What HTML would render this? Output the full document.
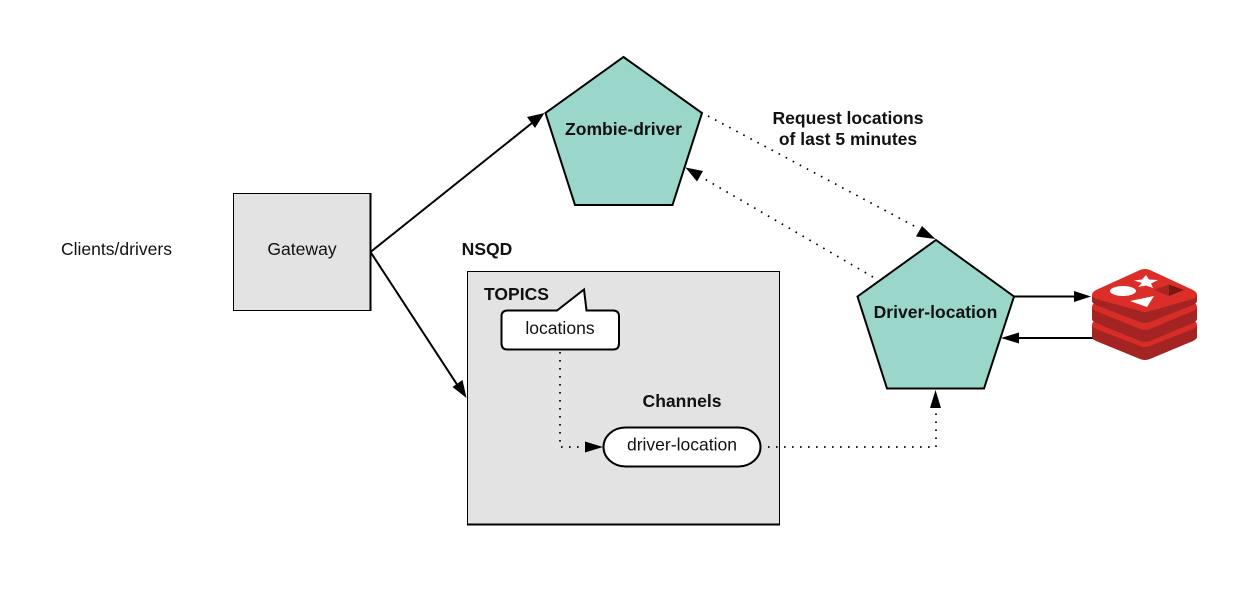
<!DOCTYPE html>
<html>
<head>
<meta charset="utf-8">
<style>
html,body{margin:0;padding:0;background:#fff;width:1241px;height:605px;overflow:hidden}
svg{display:block}
text{font-family:"Liberation Sans",sans-serif;fill:#111;font-size:17.55px}
.b{font-weight:bold}
.d{fill:none;stroke:#000;stroke-width:1.7;stroke-dasharray:1.6 6.4}
.l{fill:none;stroke:#000;stroke-width:2}
</style>
</head>
<body>
<svg width="1241" height="605" viewBox="0 0 1241 605" xmlns="http://www.w3.org/2000/svg">
<rect width="1241" height="605" fill="#fff"/>

<!-- Gateway -->
<rect x="233.5" y="193.5" width="137" height="117" fill="#e3e3e3" stroke="#000" stroke-width="1"/>
<line x1="370.5" y1="193" x2="370.5" y2="311" stroke="#000" stroke-width="2"/>
<text x="302" y="255" text-anchor="middle">Gateway</text>
<text x="116.500" y="255" text-anchor="middle">Clients/drivers</text>

<!-- NSQD box -->
<rect x="467.5" y="271.5" width="312" height="253" fill="#e3e3e3" stroke="#000" stroke-width="1"/>
<line x1="467" y1="524.5" x2="780" y2="524.5" stroke="#000" stroke-width="2"/>
<text class="b" x="487" y="255" text-anchor="middle">NSQD</text>

<!-- Pentagons -->
<polygon points="623.5,57 702,113 672.500,205 575,205 545.500,113" fill="#9bd6cb" stroke="#000" stroke-width="2" stroke-linejoin="miter"/>
<text class="b" x="623.500" y="135" text-anchor="middle">Zombie-driver</text>
<polygon points="936,240 1014,296.500 984,388.500 887,388.500 857.500,296.500" fill="#9bd6cb" stroke="#000" stroke-width="2"/>
<text class="b" x="935.500" y="318" text-anchor="middle">Driver-location</text>

<!-- Request label -->
<text class="b" x="848" y="124" text-anchor="middle">Request locations</text>
<text class="b" x="848" y="145" text-anchor="middle">of last 5 minutes</text>

<!-- Topics callout -->
<text class="b" x="484" y="300">TOPICS</text>
<path d="M508,310.500 H557 L584,289.500 L586.500,310.500 H613 Q619,310.500 619,316.500 V343.500 Q619,349.500 613,349.500 H507.500 Q501.500,349.500 501.500,343.500 V316.500 Q501.500,310.500 507.500,310.500 Z" fill="#fff" stroke="#000" stroke-width="2"/>
<text x="560" y="334" text-anchor="middle">locations</text>

<!-- Channels -->
<text class="b" x="682" y="407" text-anchor="middle">Channels</text>
<rect x="603.500" y="427.500" width="157" height="39" rx="22" ry="19.500" fill="#fff" stroke="#000" stroke-width="2"/>
<text x="682" y="450.500" text-anchor="middle">driver-location</text>

<!-- Solid connectors -->
<line class="l" x1="370.500" y1="252" x2="532" y2="123"/>
<polygon points="544.500,113 527,117 535,128" fill="#000"/>
<line class="l" x1="370.500" y1="252" x2="458" y2="386"/>
<polygon points="466.500,398 462.500,380 452.500,387" fill="#000"/>
<line class="l" x1="1014" y1="296.500" x2="1076" y2="296.500"/>
<polygon points="1091,296.500 1074,291 1074,302" fill="#000"/>
<line class="l" x1="1016" y1="338" x2="1094" y2="338"/>
<polygon points="1001,338 1019,332.500 1019,343.500" fill="#000"/>

<!-- Dotted connectors -->
<path class="d" d="M708,116 L916,227"/>
<polygon points="935.500,239 922,226 916,236.500" fill="#000"/>
<path class="d" d="M873,277 L703,178"/>
<polygon points="685.500,167.500 703,171 697,181.500" fill="#000"/>
<path class="d" d="M560,352 V447 H584"/>
<polygon points="603,447 585,441.500 585,452.500" fill="#000"/>
<path class="d" d="M768,447 H936 V408"/>
<polygon points="935.500,390 930,408 941,408" fill="#000"/>

<!-- Redis logo -->
<g>
  <!-- bottom layer -->
  <path d="M1092,325 V337 Q1092,339 1096,341 L1140,359 Q1145,361 1150,359 L1193,341 Q1197,339 1197,337 V325 Z" fill="#a32422"/>
  <path d="M1092,325 Q1092,322 1096,320 L1140,303 Q1145,301 1150,303 L1193,320 Q1197,322 1197,325 Q1197,327 1193,329 L1150,346 Q1145,348 1140,346 L1096,329 Q1092,327 1092,325 Z" fill="#d82c27"/>
  <!-- middle layer -->
  <path d="M1092,307 V319 Q1092,321 1096,323 L1140,341 Q1145,343 1150,341 L1193,323 Q1197,321 1197,319 V307 Z" fill="#a32422"/>
  <path d="M1092,307 Q1092,304 1096,302 L1140,285 Q1145,283 1150,285 L1193,302 Q1197,304 1197,307 Q1197,309 1193,311 L1150,329 Q1145,331 1140,329 L1096,311 Q1092,309 1092,307 Z" fill="#d82c27"/>
  <!-- top layer -->
  <path d="M1092,295 V301 Q1092,303 1096,305 L1140,322 Q1145,324 1150,322 L1193,305 Q1197,303 1197,301 V295 Z" fill="#a32422"/>
  <path d="M1092,295 Q1092,292 1096,290 L1140,270 Q1145,268 1150,270 L1193,290 Q1197,292 1197,295 Q1197,297 1193,299 L1150,311 Q1145,313 1140,311 L1096,299 Q1092,297 1092,295 Z" fill="#dc2e28"/>
  <!-- symbols -->
  <ellipse cx="1123" cy="291" rx="13" ry="5" fill="#fff"/>
  <polygon points="1146,275 1149,279.500 1158,280 1151,283.500 1153,288 1146,285.500 1138,287 1142,283 1134,280.500 1142,279.500" fill="#fff"/>
  <polygon points="1130,301 1154,296 1147,307" fill="#fff"/>
  <polygon points="1154,290 1169,284.500 1169,296" fill="#a82523"/>
  <polygon points="1169,284.500 1184,290 1169,296" fill="#7a1512"/>
</g>
</svg>
</body>
</html>
